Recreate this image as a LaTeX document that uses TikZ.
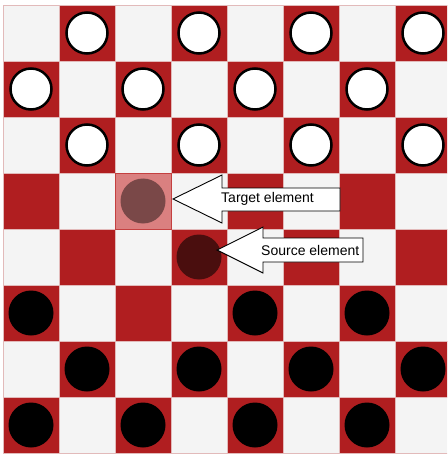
\documentclass[tikz,border=0pt]{standalone}
\usepackage{fontspec}
\setmainfont{Liberation Sans}
\begin{document}
\begin{tikzpicture}[x=1pt,y=-1pt]
\definecolor{boardred}{RGB}{176,30,32}
\definecolor{boardlight}{RGB}{244,244,244}
\definecolor{gridline}{RGB}{226,186,186}
\definecolor{targetfill}{RGB}{218,128,128}
\definecolor{targetedge}{RGB}{196,64,64}
\definecolor{targetpiece}{RGB}{122,72,72}
\definecolor{sourcepiece}{RGB}{74,14,14}
\tikzset{
  darksq/.style={fill=boardred,draw=gridline,line width=0.8pt},
  lightsq/.style={fill=boardlight,draw=gridline,line width=0.8pt},
  whitepiece/.style={fill=white,draw=black,line width=2.5pt},
  blackpiece/.style={fill=black},
  blockarrow/.style={fill=white,draw=black,line width=0.9pt,line join=miter},
  label/.style={font=\fontsize{14}{16}\selectfont,anchor=west,inner sep=0pt}
}
\useasboundingbox (0,0) rectangle (447,454);
\fill[white] (0,0) rectangle (447,454);
\begin{scope}
\clip (0,0) rectangle (447,454);
% board squares
\foreach \r in {0,...,7}{
  \foreach \c in {0,...,7}{
    \pgfmathtruncatemacro{\sqpar}{mod(\r+\c,2)}
    \ifnum\sqpar=1
      \path[darksq] ({3+56*\c},{5+56*\r}) rectangle ++(56,56);
    \else
      \path[lightsq] ({3+56*\c},{5+56*\r}) rectangle ++(56,56);
    \fi
  }
}
% white pieces
\foreach \r/\c in {0/1,0/3,0/5,0/7,1/0,1/2,1/4,1/6,2/1,2/3,2/5,2/7}{
  \path[whitepiece] ({31+56*\c},{33+56*\r}) circle (20.5);
}
% black pieces
\foreach \r/\c in {5/0,5/4,5/6,6/1,6/3,6/5,6/7,7/0,7/2,7/4,7/6}{
  \path[blackpiece] ({31+56*\c},{33+56*\r}) circle (22.5);
}
\end{scope}
% target highlight
\path[fill=targetfill,draw=targetedge,line width=0.8pt] (115,173) rectangle (171,229);
\node[circle,fill=targetpiece,minimum size=45pt,inner sep=0pt] (target) at (143,201) {};
\node[circle,fill=sourcepiece,minimum size=45pt,inner sep=0pt] (source) at (199,257) {};
% block arrows
\path[blockarrow] (173,199) -- (222,175) -- (222,188) -- (340,188) -- (340,211) -- (222,211) -- (222,223) -- cycle;
\node[label] (targetlabel) at (221,199) {Target element};
\path[blockarrow] (217,250) -- (263,227) -- (263,238) -- (363,238) -- (363,262) -- (263,262) -- (263,273) -- cycle;
\node[label] (sourcelabel) at (261,250) {Source element};
\end{tikzpicture}
\end{document}
